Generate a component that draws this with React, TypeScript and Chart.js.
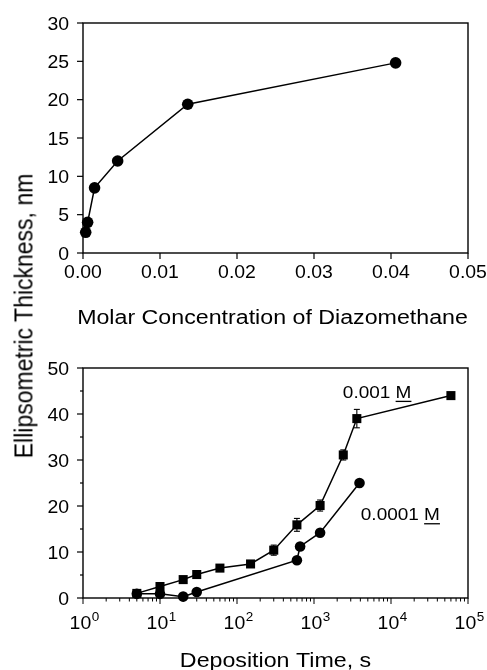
import React, { useEffect, useRef } from "react";
import { Chart, registerables } from "chart.js";

Chart.register(...registerables);

// ---------- data ----------
const concX = [0.00035, 0.0006, 0.0015, 0.0045, 0.0136, 0.0406];
const concY = [2.7, 4.0, 8.5, 12.0, 19.4, 24.8];
const topXTicks = [0, 0.01, 0.02, 0.03, 0.04, 0.05];
const topYTicks = [0, 5, 10, 15, 20, 25, 30];

const timeHighX = [5, 10, 20, 30, 60, 150, 300, 600, 1200, 2400, 3600, 60000];
const thickHighY = [1.0, 2.5, 4.0, 5.1, 6.5, 7.4, 10.4, 15.9, 20.1, 31.1, 39.0, 44.0];
const errHigh = [0.2, 0.4, 0.3, 0.5, 0.3, 0.3, 1.1, 1.4, 1.2, 1.1, 2.0, 0];
const timeLowX = [5, 10, 20, 30, 600, 660, 1200, 3900];
const thickLowY = [0.9, 0.9, 0.3, 1.3, 8.2, 11.2, 14.2, 25.0];

const bottomXExp = [0, 1, 2, 3, 4, 5];
const bottomYTicks = [0, 10, 20, 30, 40, 50];
const bottomYMinor = [5, 15, 25, 35, 45];

const labelHighText = "0.001";
const labelHighPos = [2370, 43.5];
const labelLowText = "0.0001";
const labelLowPos = [4055, 16.9];
const unitText = "M";

const topXTitle = "Molar Concentration of Diazomethane";
const bottomXTitle = "Deposition Time, s";
const yTitle = "Ellipsometric Thickness, nm";

// ---------- helpers ----------
const FONT = '"Liberation Sans", Arial, Helvetica, sans-serif';
const TICK_SIZE = 18;
const TICK_SX = 1.08;
const TITLE_SIZE = 20;
const TITLE_SX = 1.16;

function drawText(
  ctx: CanvasRenderingContext2D,
  text: string,
  x: number,
  y: number,
  align: "left" | "center" | "right",
  size: number,
  sx: number
) {
  ctx.save();
  ctx.font = `${size}px ${FONT}`;
  ctx.textBaseline = "alphabetic";
  ctx.textAlign = "left";
  ctx.fillStyle = "#000";
  const w = ctx.measureText(text).width * sx;
  const left = align === "left" ? x : align === "center" ? x - w / 2 : x - w;
  ctx.translate(left, y);
  ctx.scale(sx, 1);
  ctx.fillText(text, 0, 0);
  ctx.restore();
  return w;
}

function line(ctx: CanvasRenderingContext2D, x1: number, y1: number, x2: number, y2: number) {
  ctx.beginPath();
  ctx.moveTo(x1, y1);
  ctx.lineTo(x2, y2);
  ctx.stroke();
}

function drawBox(ctx: CanvasRenderingContext2D, a: any) {
  ctx.save();
  ctx.strokeStyle = "#000";
  ctx.lineWidth = 1.4;
  ctx.strokeRect(a.left, a.top, a.right - a.left, a.bottom - a.top);
  ctx.restore();
}

const topAxesPlugin = {
  id: "topAxes",
  beforeDatasetsDraw(chart: any) {
    const { ctx, chartArea: a, scales } = chart;
    const x = scales.x;
    const y = scales.y;
    drawBox(ctx, a);
    ctx.save();
    ctx.strokeStyle = "#000";
    ctx.lineWidth = 1.2;
    topYTicks.forEach((v) => {
      const py = y.getPixelForValue(v);
      line(ctx, a.left - 6, py, a.left, py);
      drawText(ctx, String(v), a.left - 14, py + 6.5, "right", TICK_SIZE, TICK_SX);
    });
    topXTicks.forEach((v) => {
      const px = x.getPixelForValue(v);
      line(ctx, px, a.bottom, px, a.bottom + 6);
      drawText(ctx, v.toFixed(2), px, a.bottom + 25, "center", TICK_SIZE, TICK_SX);
    });
    drawText(ctx, topXTitle, (a.left + a.right) / 2 - 3, 324, "center", TITLE_SIZE, TITLE_SX);
    ctx.restore();
  },
};

const bottomAxesPlugin = {
  id: "bottomAxes",
  beforeDatasetsDraw(chart: any) {
    const { ctx, chartArea: a, scales } = chart;
    const x = scales.x;
    const y = scales.y;
    drawBox(ctx, a);
    ctx.save();
    ctx.strokeStyle = "#000";
    ctx.lineWidth = 1.2;
    bottomYTicks.forEach((v) => {
      const py = y.getPixelForValue(v);
      line(ctx, a.left - 6, py, a.left, py);
      drawText(ctx, String(v), a.left - 14, py + 6.5, "right", TICK_SIZE, TICK_SX);
    });
    bottomYMinor.forEach((v) => {
      const py = y.getPixelForValue(v);
      line(ctx, a.left - 3, py, a.left, py);
    });
    ctx.lineWidth = 1;
    bottomXExp.forEach((e) => {
      const base = Math.pow(10, e);
      const px = x.getPixelForValue(base);
      line(ctx, px, a.bottom, px, a.bottom + 6);
      if (e < bottomXExp[bottomXExp.length - 1]) {
        for (let m = 2; m <= 9; m++) {
          const mx = x.getPixelForValue(base * m);
          line(ctx, mx, a.bottom, mx, a.bottom + 3.5);
        }
      }
      ctx.save();
      ctx.font = `${TICK_SIZE}px ${FONT}`;
      const w1 = ctx.measureText("10").width * TICK_SX;
      ctx.font = `12px ${FONT}`;
      const w2 = ctx.measureText(String(e)).width * TICK_SX;
      ctx.restore();
      const start = px - (w1 + w2) / 2 + 1;
      drawText(ctx, "10", start, a.bottom + 31, "left", TICK_SIZE, TICK_SX);
      drawText(ctx, String(e), start + w1 + 0.5, a.bottom + 23, "left", 12.5, TICK_SX);
    });
    drawText(ctx, bottomXTitle, (a.left + a.right) / 2, 332, "center", TITLE_SIZE, TITLE_SX);
    ctx.restore();
  },
  afterDatasetsDraw(chart: any) {
    const { ctx, scales } = chart;
    const x = scales.x;
    const y = scales.y;
    ctx.save();
    ctx.strokeStyle = "#000";
    ctx.lineWidth = 1.1;
    timeHighX.forEach((t, i) => {
      const e = errHigh[i];
      if (!e) return;
      const px = x.getPixelForValue(t);
      const pTop = y.getPixelForValue(thickHighY[i] + e);
      const pBot = y.getPixelForValue(thickHighY[i] - e);
      line(ctx, px, pTop, px, pBot);
      line(ctx, px - 3, pTop, px + 3, pTop);
      line(ctx, px - 3, pBot, px + 3, pBot);
    });
    const drawLabel = (txt: string, pos: number[]) => {
      const lx = x.getPixelForValue(pos[0]);
      const ly = y.getPixelForValue(pos[1]);
      const w = drawText(ctx, txt + " ", lx, ly, "left", 16.5, 1.15);
      const wm = drawText(ctx, unitText, lx + w, ly, "left", 16.5, 1.15);
      ctx.lineWidth = 1.3;
      line(ctx, lx + w, ly + 3.5, lx + w + wm, ly + 3.5);
    };
    drawLabel(labelHighText, labelHighPos);
    drawLabel(labelLowText, labelLowPos);
    ctx.restore();
  },
};

const TopChart: React.FC = () => {
  const ref = useRef<HTMLCanvasElement>(null);
  useEffect(() => {
    if (!ref.current) return;
    const chart = new Chart(ref.current, {
      type: "line",
      data: {
        datasets: [
          {
            data: concX.map((c, i) => ({ x: c, y: concY[i] })),
            borderColor: "#000",
            backgroundColor: "#000",
            borderWidth: 1.5,
            pointRadius: 5.8,
            pointStyle: "circle",
            pointBackgroundColor: "#000",
            pointBorderColor: "#000",
            pointBorderWidth: 0,
            tension: 0,
            fill: false,
            clip: false,
          } as any,
        ],
      },
      options: {
        animation: false,
        responsive: false,
        events: [],
        layout: { padding: { left: 83, right: 19, top: 23, bottom: 82 } },
        plugins: { legend: { display: false }, tooltip: { enabled: false } },
        scales: {
          x: { type: "linear", min: 0, max: 0.05, display: false },
          y: { type: "linear", min: 0, max: 30, display: false },
        },
      },
      plugins: [topAxesPlugin],
    });
    return () => chart.destroy();
  }, []);
  return (
    <canvas
      ref={ref}
      width={487}
      height={335}
      style={{ position: "absolute", left: 0, top: 0, width: 487, height: 335 }}
    />
  );
};

const BottomChart: React.FC = () => {
  const ref = useRef<HTMLCanvasElement>(null);
  useEffect(() => {
    if (!ref.current) return;
    const chart = new Chart(ref.current, {
      type: "line",
      data: {
        datasets: [
          {
            label: "0.0001 M",
            data: timeLowX.map((t, i) => ({ x: t, y: thickLowY[i] })),
            borderColor: "#000",
            backgroundColor: "#000",
            borderWidth: 1.5,
            pointRadius: 5.3,
            pointStyle: "circle",
            pointBackgroundColor: "#000",
            pointBorderWidth: 0,
            tension: 0,
            fill: false,
            clip: false,
          } as any,
          {
            label: "0.001 M",
            data: timeHighX.map((t, i) => ({ x: t, y: thickHighY[i] })),
            borderColor: "#000",
            backgroundColor: "#000",
            borderWidth: 1.5,
            pointRadius: 6.4,
            pointStyle: "rect",
            pointBackgroundColor: "#000",
            pointBorderWidth: 0,
            tension: 0,
            fill: false,
            clip: false,
          } as any,
        ],
      },
      options: {
        animation: false,
        responsive: false,
        events: [],
        layout: { padding: { left: 83, right: 19, top: 33, bottom: 72 } },
        plugins: { legend: { display: false }, tooltip: { enabled: false } },
        scales: {
          x: { type: "logarithmic", min: 1, max: 100000, display: false },
          y: { type: "linear", min: 0, max: 50, display: false },
        },
      },
      plugins: [bottomAxesPlugin],
    });
    return () => chart.destroy();
  }, []);
  return (
    <canvas
      ref={ref}
      width={487}
      height={335}
      style={{ position: "absolute", left: 0, top: 335, width: 487, height: 335 }}
    />
  );
};

export default function App() {
  return (
    <div
      style={{
        position: "absolute",
        left: 0,
        top: 0,
        width: 487,
        height: 670,
        background: "#fff",
        overflow: "hidden",
      }}
    >
      <TopChart />
      <BottomChart />
      <div
        style={{
          position: "absolute",
          left: 24,
          top: 316,
          transform: "translate(-50%, -50%) rotate(-90deg) scaleY(1.15)",
          fontFamily: FONT,
          fontSize: 23,
          lineHeight: 1,
          whiteSpace: "nowrap",
          color: "#000",
        }}
      >
        {yTitle}
      </div>
    </div>
  );
}
